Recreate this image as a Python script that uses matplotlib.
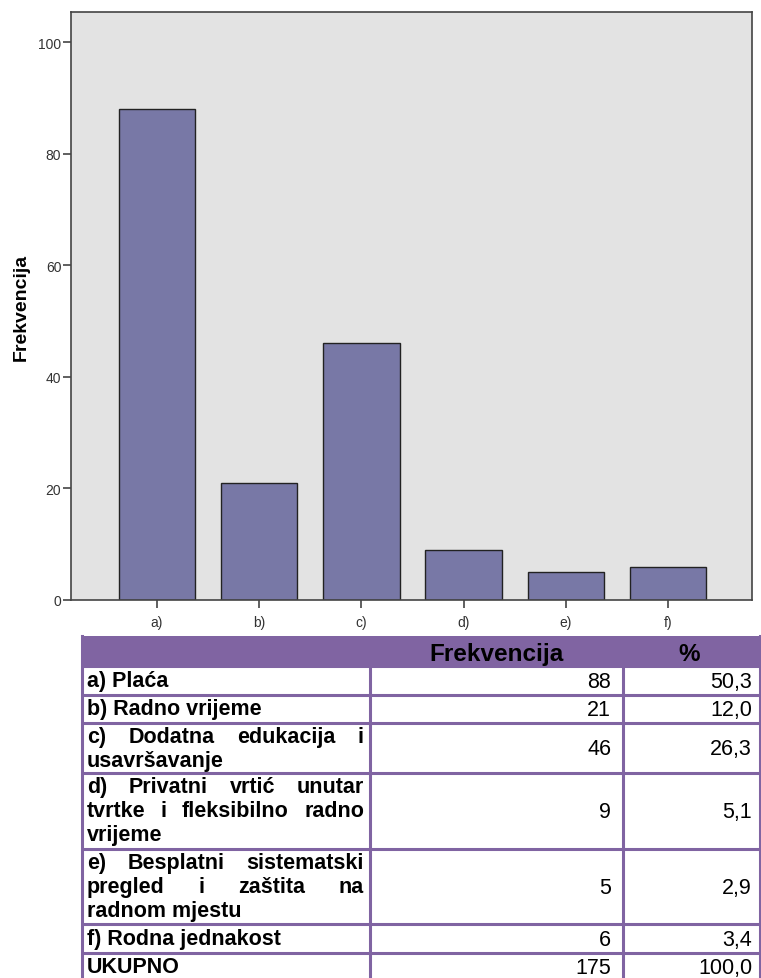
import numpy as np
import matplotlib.pyplot as plt
from matplotlib.patches import Rectangle

plt.rcParams['font.family'] = ['Liberation Sans', 'DejaVu Sans']

# podaci
kategorije = ['a)', 'b)', 'c)', 'd)', 'e)', 'f)']
frekvencije = [88, 21, 46, 9, 5, 6]
postoci = ['50,3', '12,0', '26,3', '5,1', '2,9', '3,4']
opisi = [
    'a) Plaća',
    'b) Radno vrijeme',
    'c) Dodatna edukacija i\nusavršavanje',
    'd) Privatni vrtić unutar\ntvrtke i fleksibilno radno\nvrijeme',
    'e) Besplatni sistematski\npregled i zaštita na\nradnom mjestu',
    'f) Rodna jednakost',
]
ukupno_label = 'UKUPNO'
ukupno_frek = 175
ukupno_post = '100,0'
y_ticks = [0, 20, 40, 60, 80, 100]

W, H = 761, 979
fig = plt.figure(figsize=(W / 100, H / 100), dpi=100)

########################################
# graf

ax = fig.add_axes([71 / W, 1 - 601 / H, (752 - 71) / W, (601 - 13) / H])
ax.set_facecolor('#E3E3E3')
x = np.arange(len(kategorije))
ax.bar(x, frekvencije, width=0.75, color='#7878A6', edgecolor='#222222', linewidth=1.0)
ax.set_xlim(-0.84, 5.82)
ax.set_ylim(0, 105.4)
ax.set_xticks(x)
ax.set_xticklabels(kategorije)
ax.set_yticks(y_ticks)
for s in ax.spines.values():
    s.set_color('#444444')
    s.set_linewidth(1.2)
ax.tick_params(direction='out', length=6, width=1.2, color='#444444',
               labelcolor='#333333', labelsize=10, pad=1)
ax.tick_params(axis='x', pad=5)
ax.set_ylabel('Frekvencija', fontsize=14, fontweight='bold', labelpad=6)

########################################
# tablica

purple = '#8064A2'
tax = fig.add_axes([0, 0, 1, 1])
tax.set_xlim(0, W)
tax.set_ylim(H, 0)
tax.axis('off')

x0, x1, x2, x3 = 82, 370, 623, 760
row_h = {1: 28.5, 2: 50, 3: 75.5}
line_h = 24
fs = 15.5

renderer = fig.canvas.get_renderer()


def justified(tax, text, left, right, top, first_off):
    lines = text.split('\n')
    for i, line in enumerate(lines):
        y = top + first_off + i * line_h
        words = line.split(' ')
        if i == len(lines) - 1 or len(words) == 1:
            tax.text(left, y, line, fontsize=fs, fontweight='bold', va='center', ha='left')
            continue
        objs = [tax.text(0, y, w, fontsize=fs, fontweight='bold', va='center', ha='left')
                for w in words]
        widths = [o.get_window_extent(renderer).width for o in objs]
        gap = (right - left - sum(widths)) / (len(words) - 1)
        pos = left
        for o, w in zip(objs, widths):
            o.set_x(pos)
            pos += w + gap


# zaglavlje
top = 637
tax.add_patch(Rectangle((x0, top), x3 - x0, 30, facecolor=purple, edgecolor='none'))
tax.text((x1 + x2) / 2, top + 18, 'Frekvencija', fontsize=17.5, fontweight='bold',
         ha='center', va='center')
tax.text((x2 + x3) / 2 - 2, top + 18, '%', fontsize=17.5, fontweight='bold',
         ha='center', va='center')
top += 30

granice = [top]
redovi = list(zip(opisi, frekvencije, postoci)) + [(ukupno_label, ukupno_frek, ukupno_post)]
for opis, frek, post in redovi:
    n = opis.count('\n') + 1
    h = row_h[n]
    justified(tax, opis, 87, 364, top, 14 if n > 1 else h / 2)
    tax.text(x2 - 12, top + h / 2 + 1, str(frek), fontsize=fs, ha='right', va='center')
    tax.text(x3 - 8, top + h / 2 + 1, post, fontsize=fs, ha='right', va='center')
    top += h
    granice.append(top)

for g in granice[:-1]:
    tax.plot([x0, x3], [g, g], color=purple, lw=2.2, solid_capstyle='butt')
tax.plot([x0, x0], [637, granice[-1]], color=purple, lw=2.2)
tax.plot([x3, x3], [637, granice[-1]], color=purple, lw=2.2)
for xv in (x1, x2):
    tax.plot([xv, xv], [667, granice[-1]], color=purple, lw=2.2)

fig.savefig('out.png', dpi=100)
